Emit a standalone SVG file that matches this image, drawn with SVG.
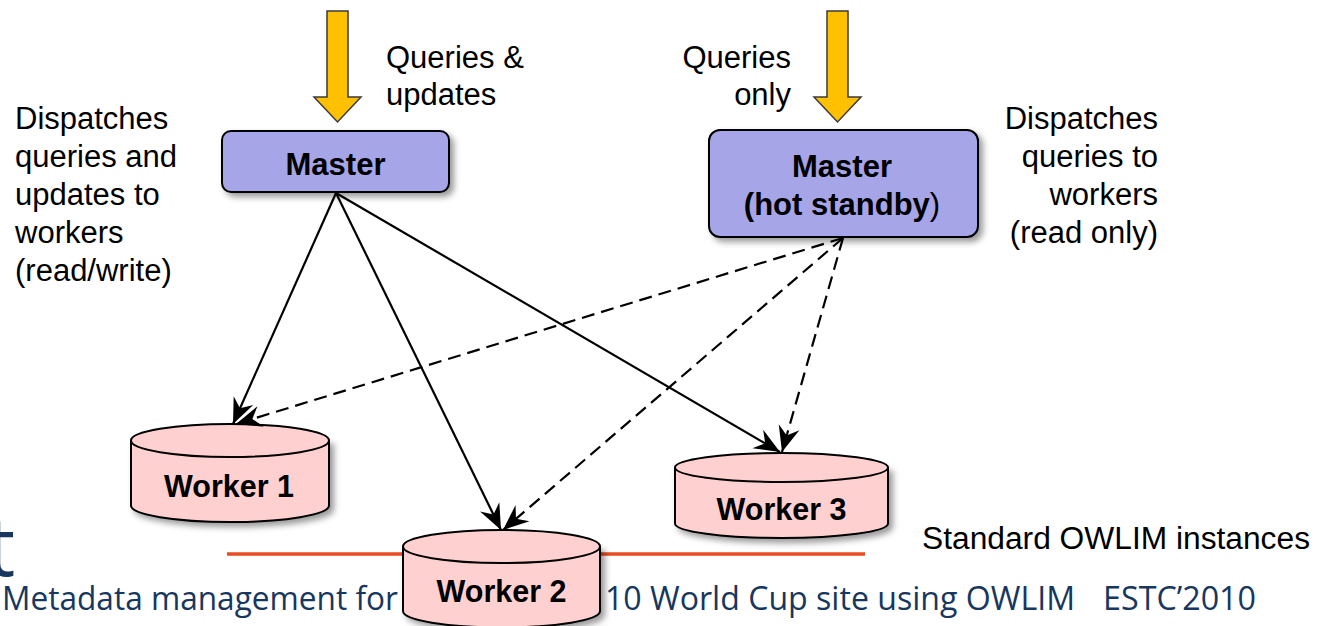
<svg xmlns="http://www.w3.org/2000/svg" width="1324" height="626" viewBox="0 0 1324 626">
  <defs>
    <filter id="shadow" x="-10%" y="-20%" width="130%" height="160%">
      <feDropShadow dx="4" dy="4" stdDeviation="3" flood-color="#000" flood-opacity="0.4"/>
    </filter>
    <marker id="barb" markerUnits="userSpaceOnUse" orient="auto" refX="0" refY="0"
            markerWidth="30" markerHeight="30" viewBox="-26 -12 28 24" overflow="visible">
      <path d="M0,0 L-24,-10 L-16,0 L-24,10 Z" fill="#000"/>
    </marker>
    <style>
      .lbl { font-family: "Liberation Sans", Arial, sans-serif; font-size: 31px; fill: #000; }
      .node-txt { font-family: "Liberation Sans", Arial, sans-serif; font-size: 31px; font-weight: bold; fill: #000; text-anchor: middle; }
      .box { fill: #A5A5E8; stroke: #000; stroke-width: 2; }
      .cyl { fill: #FFD0D0; stroke: #000; stroke-width: 2; }
      .feed { fill: #FFC000; stroke: #3a3a3a; stroke-width: 1.5; }
      .solid { fill: none; stroke: #000; stroke-width: 2.2; marker-end: url(#barb); }
      .dash { fill: none; stroke: #000; stroke-width: 2.2; stroke-dasharray: 13 7; marker-end: url(#barb); }
      .footer { font-family: "Open Sans", "Noto Sans", sans-serif; font-size: 32px; fill: #17375E; }
    </style>
  </defs>

  <rect width="1324" height="626" fill="#fff"/>

  <!-- slide footer -->
  <text class="footer" x="-14" y="576" style="font-size:82px">t</text>
  <line x1="227" y1="554" x2="865" y2="554" stroke="#E84C22" stroke-width="3.5"/>
  <text class="footer" x="2" y="610" textLength="396" lengthAdjust="spacingAndGlyphs">Metadata management for</text>
  <text class="footer" x="605" y="610" textLength="470" lengthAdjust="spacingAndGlyphs">10 World Cup site using OWLIM</text>
  <text class="footer" x="1103" y="610" textLength="153" lengthAdjust="spacingAndGlyphs">ESTC’2010</text>

  <!-- incoming request arrows -->
  <polygon class="feed" points="327,11 348,11 348,97 361,97 337.5,122 314,97 327,97"/>
  <polygon class="feed" points="827,11 848,11 848,97 861,97 837.5,122 814,97 827,97"/>

  <!-- annotations -->
  <text class="lbl" x="386" y="68">Queries &amp;</text>
  <text class="lbl" x="386" y="105">updates</text>
  <text class="lbl" x="791" y="68" text-anchor="end">Queries</text>
  <text class="lbl" x="791" y="105" text-anchor="end">only</text>

  <g class="lbl">
    <text x="15" y="129">Dispatches</text>
    <text x="15" y="167">queries and</text>
    <text x="15" y="205">updates to</text>
    <text x="15" y="243">workers</text>
    <text x="15" y="281">(read/write)</text>
  </g>
  <g class="lbl" text-anchor="end">
    <text x="1158" y="129">Dispatches</text>
    <text x="1158" y="167">queries to</text>
    <text x="1158" y="205">workers</text>
    <text x="1158" y="243">(read only)</text>
  </g>
  <text class="lbl" x="922" y="549" textLength="388" lengthAdjust="spacingAndGlyphs">Standard OWLIM instances</text>

  <!-- master nodes -->
  <g id="master">
    <rect class="box" x="222" y="131" width="227" height="61" rx="9" filter="url(#shadow)"/>
    <text class="node-txt" x="335.5" y="175">Master</text>
  </g>
  <g id="master-standby">
    <rect class="box" x="709" y="130" width="269" height="107" rx="11" filter="url(#shadow)"/>
    <text class="node-txt" x="842" y="177">Master</text>
    <text class="node-txt" x="842" y="215">(hot standby<tspan font-weight="normal">)</tspan></text>
  </g>

  <!-- worker nodes (cylinders) -->
  <g id="worker1">
    <g filter="url(#shadow)">
      <path class="cyl" d="M131,440.5 L131,505.5 A99,16.5 0 0 0 329,505.5 L329,440.5 Z"/>
    </g>
    <ellipse class="cyl" cx="230" cy="440.5" rx="99" ry="16.5"/>
    <text class="node-txt" x="229" y="497" style="font-size:30.5px">Worker 1</text>
  </g>
  <g id="worker3">
    <g filter="url(#shadow)">
      <path class="cyl" d="M675,467.5 L675,523.5 A106.5,14.5 0 0 0 888,523.5 L888,467.5 Z"/>
    </g>
    <ellipse class="cyl" cx="781.5" cy="467.5" rx="106.5" ry="14.5"/>
    <text class="node-txt" x="781.5" y="520" style="font-size:30.5px">Worker 3</text>
  </g>
  <g id="worker2">
    <g filter="url(#shadow)">
      <path class="cyl" d="M403,546.5 L403,611 A98.5,16.5 0 0 0 600,611 L600,546.5 Z"/>
    </g>
    <ellipse class="cyl" cx="501.5" cy="546.5" rx="98.5" ry="16.5"/>
    <text class="node-txt" x="501.5" y="602" style="font-size:30.5px">Worker 2</text>
  </g>

  <!-- connectors -->
  <g id="connectors">
    <line class="solid" x1="336" y1="193" x2="233" y2="424"/>
    <line class="solid" x1="336" y1="193" x2="501" y2="530"/>
    <line class="solid" x1="336" y1="193" x2="780" y2="452"/>
    <line class="dash" x1="843" y1="238" x2="236" y2="424"/>
    <line class="dash" x1="843" y1="238" x2="503" y2="530"/>
    <line class="dash" x1="843" y1="238" x2="782" y2="452"/>
  </g>
</svg>
